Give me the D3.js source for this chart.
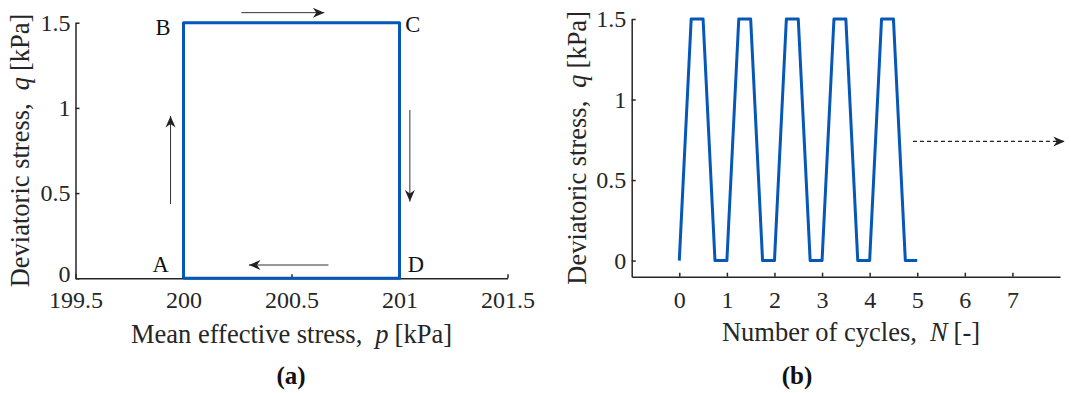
<!DOCTYPE html>
<html>
<head>
<meta charset="utf-8">
<script src="https://cdn.jsdelivr.net/npm/d3@7"></script>
<style>
  body { margin: 0; background: #fff; }
  svg { font-family: "Liberation Serif", "Times New Roman", serif; }
  .axis path, .axis line { stroke: #262626; stroke-width: 1.5; }
</style>
</head>
<body>
<svg id="chart" width="1071" height="393"></svg>
<script>
// panel (a): stress path in p-q space
var pathP = [200, 200, 201, 201, 200];
var pathQ = [0, 1.5, 1.5, 0, 0];
var cornerNames = ["A", "B", "C", "D"];
var cornerP = [199.894, 199.905, 201.061, 201.076];
var cornerQ = [0.039, 1.428, 1.447, 0.039];
var ticksPa = [199.5, 200, 200.5, 201, 201.5];
var ticksQa = [0, 0.5, 1, 1.5];
// direction arrows (from, to) in data units
var arrowsA = [
  { p0: 200.268, q0: 1.559, p1: 200.652, q1: 1.559 },
  { p0: 201.048, q0: 0.988, p1: 201.048, q1: 0.45 },
  { p0: 200.671, q0: 0.078, p1: 200.303, q1: 0.078 },
  { p0: 199.94, q0: 0.436, p1: 199.94, q1: 0.952 }
];

// panel (b): load history
var cycN = [0, 0.25, 0.5, 0.75, 1, 1.25, 1.5, 1.75, 2, 2.25, 2.5, 2.75, 3,
            3.25, 3.5, 3.75, 4, 4.25, 4.5, 4.75, 5];
var cycQ = [0, 1.5, 1.5, 0, 0, 1.5, 1.5, 0, 0, 1.5, 1.5, 0, 0,
            1.5, 1.5, 0, 0, 1.5, 1.5, 0, 0];
var ticksN = [0, 1, 2, 3, 4, 5, 6, 7];
var ticksQb = [0, 0.5, 1, 1.5];
var contArrow = { n0: 4.91, n1: 8.1, q: 0.74 };

var blue = "#0657b8";
var serif = "Liberation Serif";
var svg = d3.select("#chart");

var defs = svg.append("defs");
defs.append("marker")
  .attr("id", "head")
  .attr("viewBox", "-12 -6 13 12")
  .attr("refX", 0).attr("refY", 0)
  .attr("markerWidth", 13).attr("markerHeight", 12)
  .attr("markerUnits", "userSpaceOnUse")
  .attr("orient", "auto")
  .append("path")
  .attr("d", "M0,0 L-11.5,-5 L-8,0 L-11.5,5 Z")
  .attr("fill", "#222");

function fmt(d) { return String(d); }

// d3 puts sans-serif on the axis group, undo that
function styleAxis(g) {
  g.attr("font-family", serif).attr("font-size", 24);
  g.selectAll("text")
    .attr("font-family", serif)
    .attr("font-size", 24)
    .attr("fill", "#262626");
}

// ---------- panel (a) ----------
var xa = d3.scaleLinear().domain([199.5, 201.5]).range([75.5, 507.5]);
var ya = d3.scaleLinear().domain([0, 1.5]).range([278.3, 22.7]);
var ga = svg.append("g");

ga.append("g").attr("class", "axis")
  .attr("transform", "translate(0," + ya(0) + ")")
  .call(d3.axisBottom(xa).tickValues(ticksPa).tickFormat(fmt)
    .tickSizeInner(-4).tickSizeOuter(0).tickPadding(12.2))
  .call(styleAxis);

ga.append("g").attr("class", "axis")
  .attr("transform", "translate(" + xa(199.5) + ",0)")
  .call(d3.axisLeft(ya).tickValues(ticksQa).tickFormat(fmt)
    .tickSizeInner(-4).tickSizeOuter(0).tickPadding(5))
  .call(styleAxis)
  .selectAll(".tick text").filter(d => d === 0).attr("dy", "0.12em");

ga.append("path")
  .datum(d3.range(pathP.length))
  .attr("fill", "none").attr("stroke", blue).attr("stroke-width", 3)
  .attr("stroke-linejoin", "round")
  .attr("d", d3.line().x(i => xa(pathP[i])).y(i => ya(pathQ[i])));

ga.selectAll(".corner").data(cornerNames).enter()
  .append("text").attr("class", "corner")
  .attr("x", (d, i) => xa(cornerP[i]))
  .attr("y", (d, i) => ya(cornerQ[i]))
  .attr("text-anchor", "middle")
  .attr("font-size", 22.5).attr("fill", "#111")
  .text(d => d);

ga.selectAll(".dir").data(arrowsA).enter()
  .append("line").attr("class", "dir")
  .attr("x1", d => xa(d.p0)).attr("y1", d => ya(d.q0))
  .attr("x2", d => xa(d.p1)).attr("y2", d => ya(d.q1))
  .attr("stroke", "#333").attr("stroke-width", 1)
  .attr("marker-end", "url(#head)");

var yla = ga.append("text")
  .attr("transform", "translate(29," + (ya(0) + ya(1.5)) / 2 + ") rotate(-90)")
  .attr("text-anchor", "middle").attr("font-size", 26.5).attr("fill", "#262626");
yla.append("tspan").text("Deviatoric stress,");
yla.append("tspan").attr("dx", 13).attr("font-style", "italic").text("q");
yla.append("tspan").attr("dx", 6).text("[kPa]");

var xla = ga.append("text")
  .attr("x", (xa.range()[0] + xa.range()[1]) / 2).attr("y", 343)
  .attr("text-anchor", "middle").attr("font-size", 26.5).attr("fill", "#262626");
xla.append("tspan").text("Mean effective stress,");
xla.append("tspan").attr("dx", 13).attr("font-style", "italic").text("p");
xla.append("tspan").attr("dx", 6).text("[kPa]");

ga.append("text")
  .attr("x", 291).attr("y", 384)
  .attr("text-anchor", "middle").attr("font-size", 25).attr("font-weight", "bold")
  .attr("fill", "#111").text("(a)");

// ---------- panel (b) ----------
var xb = d3.scaleLinear().domain([-1, 8]).range([631.7, 1060]);
var yb = d3.scaleLinear().domain([-0.1, 1.5]).range([276.7, 19]);
var gb = svg.append("g");

gb.append("g").attr("class", "axis")
  .attr("transform", "translate(0," + yb(-0.1) + ")")
  .call(d3.axisBottom(xb).tickValues(ticksN).tickFormat(fmt)
    .tickSizeInner(-4).tickSizeOuter(0).tickPadding(13.8))
  .call(styleAxis);

gb.append("g").attr("class", "axis")
  .attr("transform", "translate(" + xb(-1) + ",0)")
  .call(d3.axisLeft(yb).tickValues(ticksQb).tickFormat(fmt)
    .tickSizeInner(-4).tickSizeOuter(0).tickPadding(5.5))
  .call(styleAxis);

gb.append("path")
  .datum(d3.range(cycN.length))
  .attr("fill", "none").attr("stroke", blue).attr("stroke-width", 3)
  .attr("stroke-linejoin", "round")
  .attr("d", d3.line().x(i => xb(cycN[i])).y(i => yb(cycQ[i])));

gb.append("line")
  .attr("x1", xb(contArrow.n0)).attr("y1", yb(contArrow.q))
  .attr("x2", xb(contArrow.n1)).attr("y2", yb(contArrow.q))
  .attr("stroke", "#222").attr("stroke-width", 1.3)
  .attr("stroke-dasharray", "4,3")
  .attr("marker-end", "url(#head)");

var ylb = gb.append("text")
  .attr("transform", "translate(586," + (yb(-0.1) + yb(1.5)) / 2 + ") rotate(-90)")
  .attr("text-anchor", "middle").attr("font-size", 26.5).attr("fill", "#262626");
ylb.append("tspan").text("Deviatoric stress,");
ylb.append("tspan").attr("dx", 13).attr("font-style", "italic").text("q");
ylb.append("tspan").attr("dx", 6).text("[kPa]");

var xlb = gb.append("text")
  .attr("x", 851).attr("y", 341)
  .attr("text-anchor", "middle").attr("font-size", 26.5).attr("fill", "#262626");
xlb.append("tspan").text("Number of cycles,");
xlb.append("tspan").attr("dx", 13).attr("font-style", "italic").text("N");
xlb.append("tspan").attr("dx", 6).text("[-]");

gb.append("text")
  .attr("x", 797).attr("y", 384)
  .attr("text-anchor", "middle").attr("font-size", 25).attr("font-weight", "bold")
  .attr("fill", "#111").text("(b)");
</script>
</body>
</html>
